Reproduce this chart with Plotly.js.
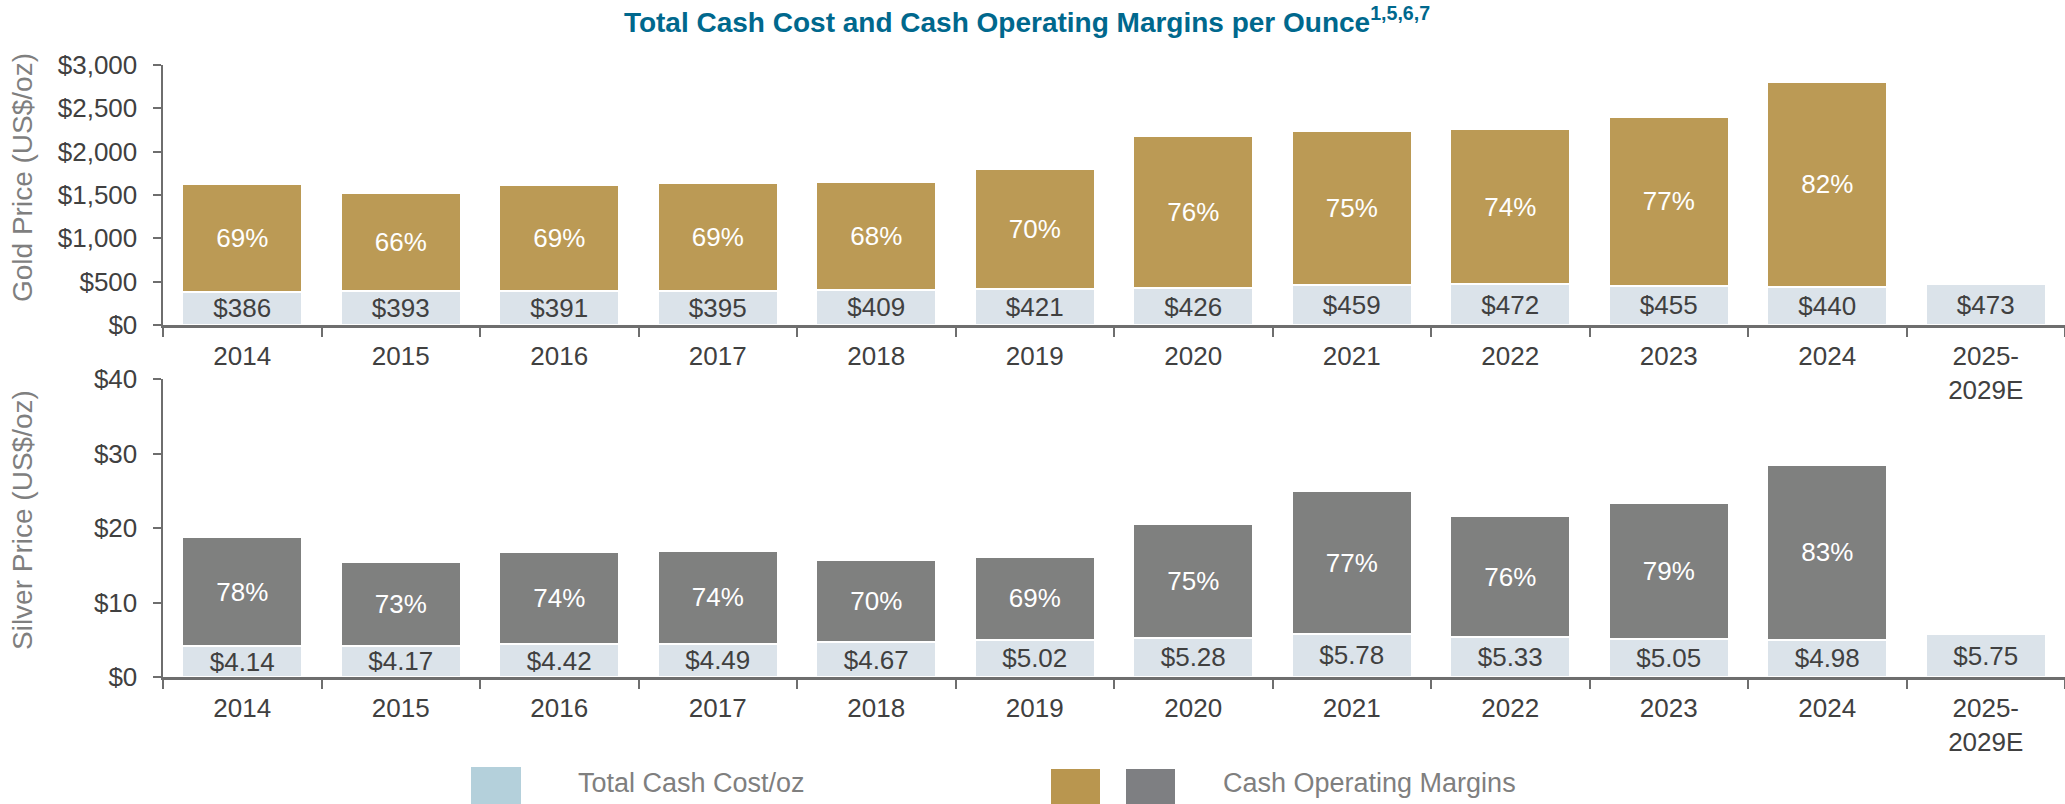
<!DOCTYPE html>
<html>
<head>
<meta charset="utf-8">
<script src="https://cdn.plot.ly/plotly-3.0.1.min.js"></script>
<style>
  html, body { margin: 0; padding: 0; background: #ffffff; }
  #chart { width: 2065px; height: 804px; }
</style>
</head>
<body>
<div id="chart"></div>
<script>
// ---- Data ----
const categories = ['2014','2015','2016','2017','2018','2019','2020','2021','2022','2023','2024','2025-<br>2029E'];
const marginCategories = ['2014','2015','2016','2017','2018','2019','2020','2021','2022','2023','2024'];

const goldCost = [386, 393, 391, 395, 409, 421, 426, 459, 472, 455, 440, 473];
const goldMargin = [1245, 1134, 1228, 1243, 1245, 1375, 1751, 1783, 1790, 1949, 2364];
const goldMarginPct = ['69%','66%','69%','69%','68%','70%','76%','75%','74%','77%','82%'];

const silverCost = [4.14, 4.17, 4.42, 4.49, 4.67, 5.02, 5.28, 5.78, 5.33, 5.05, 4.98, 5.75];
const silverMargin = [14.61, 11.31, 12.36, 12.38, 10.99, 11.09, 15.27, 19.12, 16.27, 18.35, 23.52];
const silverMarginPct = ['78%','73%','74%','74%','70%','69%','75%','77%','76%','79%','83%'];

const legendLabels = ['Total Cash Cost/oz', 'Cash Operating Margins'];

// ---- Styling ----
const FONT = 'Liberation Sans, Arial, sans-serif';
const COST_COLOR = '#dbe3ea';
const GOLD_COLOR = '#bb9a55';
const SILVER_COLOR = '#7f807f';
const AXIS_COLOR = '#6e6e6e';
const TICK_TEXT = '#404040';
const TITLE_GRAY = '#7f7f7f';

// pixel helpers for the fixed 2065x804 canvas
const W = 2065, H = 804;
const M = {l: 163, r: 0, t: 65, b: 127};
const PW = W - M.l - M.r, PH = H - M.t - M.b;
const px = x => (x - M.l) / PW;
const py = y => (H - M.b - y) / PH;

function costTrace(y, xa, ya, fmt) {
  return {
    type: 'bar', x: categories, y: y, xaxis: xa, yaxis: ya,
    marker: {color: COST_COLOR, line: {color: '#ffffff', width: 2}},
    texttemplate: fmt, textposition: 'inside', insidetextanchor: 'middle',
    constraintext: 'none',
    textfont: {family: FONT, size: 26, color: TICK_TEXT},
    hoverinfo: 'skip', showlegend: false
  };
}
function marginTrace(y, txt, color, xa, ya) {
  return {
    type: 'bar', x: marginCategories, y: y, xaxis: xa, yaxis: ya, text: txt,
    marker: {color: color, line: {color: '#ffffff', width: 2}},
    texttemplate: '%{text}', textposition: 'inside', insidetextanchor: 'middle',
    constraintext: 'none',
    textfont: {family: FONT, size: 26, color: '#ffffff'},
    hoverinfo: 'skip', showlegend: false
  };
}

const traces = [
  costTrace(goldCost, 'x', 'y', '$%{y:.0f}'),
  marginTrace(goldMargin, goldMarginPct, GOLD_COLOR, 'x', 'y'),
  costTrace(silverCost, 'x2', 'y2', '$%{y:.2f}'),
  marginTrace(silverMargin, silverMarginPct, SILVER_COLOR, 'x2', 'y2')
];

const yTop = [py(325), 1];
const yBot = [0, py(379)];

function xAxis(anchor) {
  return {
    type: 'category', anchor: anchor, domain: [0, 1],
    categoryorder: 'array', categoryarray: categories,
    showline: true, linecolor: AXIS_COLOR, linewidth: 2.5,
    ticks: 'outside', tickson: 'boundaries', ticklen: 9, tickwidth: 2, tickcolor: AXIS_COLOR,
    tickfont: {family: FONT, size: 26, color: TICK_TEXT},
    ticklabelstandoff: 6,
    showgrid: false, zeroline: false, fixedrange: true
  };
}
function yAxis(anchor, domain, range, dtick) {
  return {
    anchor: anchor, domain: domain, range: range, dtick: dtick,
    tickprefix: '$', tickformat: ',d',
    showline: true, linecolor: AXIS_COLOR, linewidth: 2.5,
    ticks: 'outside', ticklen: 8, tickwidth: 2, tickcolor: AXIS_COLOR,
    tickfont: {family: FONT, size: 26, color: TICK_TEXT},
    ticklabelstandoff: 10,
    showgrid: false, zeroline: false, fixedrange: true
  };
}

const layout = {
  width: W, height: H,
  margin: M,
  paper_bgcolor: '#ffffff', plot_bgcolor: '#ffffff',
  barmode: 'stack', bargap: 0.244,
  showlegend: false,
  title: {
    text: 'Total Cash Cost and Cash Operating Margins per Ounce<sup>1,5,6,7</sup>',
    x: 1027 / W, xanchor: 'center', xref: 'container',
    y: 1 - 22 / H, yanchor: 'middle', yref: 'container',
    font: {family: FONT, size: 28, weight: 'bold', color: '#00688d'}
  },
  xaxis: xAxis('y'),
  yaxis: yAxis('x', yTop, [0, 3000], 500),
  xaxis2: xAxis('y2'),
  yaxis2: yAxis('x2', yBot, [0, 40], 10),
  annotations: [
    {text: 'Gold Price (US$/oz)', xref: 'paper', yref: 'paper', x: px(22), y: py(178),
     xanchor: 'center', yanchor: 'middle', textangle: -90, showarrow: false,
     font: {family: FONT, size: 28, color: TITLE_GRAY}},
    {text: 'Silver Price (US$/oz)', xref: 'paper', yref: 'paper', x: px(22), y: py(520),
     xanchor: 'center', yanchor: 'middle', textangle: -90, showarrow: false,
     font: {family: FONT, size: 28, color: TITLE_GRAY}},
    {text: legendLabels[0], xref: 'paper', yref: 'paper', x: px(576), y: py(783),
     xanchor: 'left', yanchor: 'middle', showarrow: false,
     font: {family: FONT, size: 27, color: TITLE_GRAY}},
    {text: legendLabels[1], xref: 'paper', yref: 'paper', x: px(1221), y: py(783),
     xanchor: 'left', yanchor: 'middle', showarrow: false,
     font: {family: FONT, size: 27, color: TITLE_GRAY}}
  ],
  shapes: [
    {type: 'rect', xref: 'paper', yref: 'paper', x0: px(471), x1: px(521), y0: py(767), y1: py(806),
     fillcolor: '#b4d0db', line: {width: 0}},
    {type: 'rect', xref: 'paper', yref: 'paper', x0: px(1051), x1: px(1100), y0: py(769), y1: py(806),
     fillcolor: '#b9964f', line: {width: 0}},
    {type: 'rect', xref: 'paper', yref: 'paper', x0: px(1126), x1: px(1175), y0: py(769), y1: py(806),
     fillcolor: '#7e7f82', line: {width: 0}}
  ]
};

Plotly.newPlot('chart', traces, layout, {staticPlot: true, displayModeBar: false});
</script>
</body>
</html>
